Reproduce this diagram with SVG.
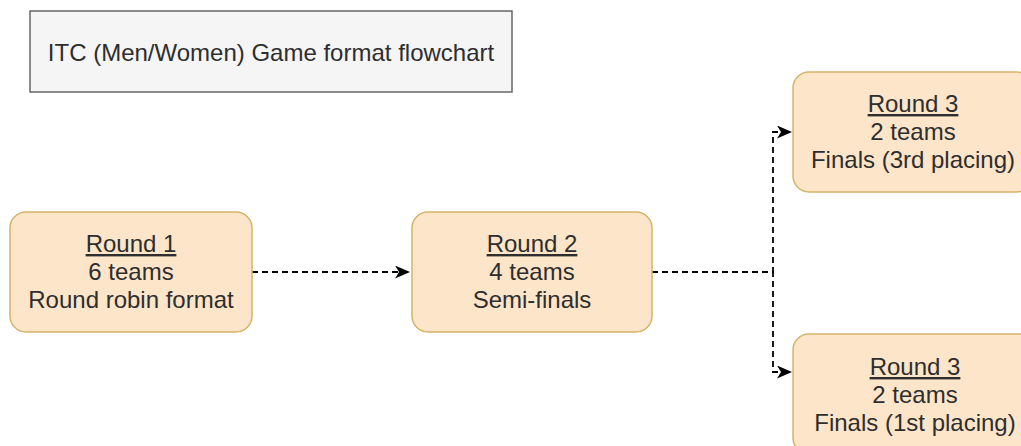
<svg xmlns="http://www.w3.org/2000/svg" width="1021" height="446" viewBox="0 0 1021 446">
<style>
.title{fill:#f5f5f5;stroke:#666666;stroke-width:1.5}
.node{fill:#fde5c9;stroke:#d6b36a;stroke-width:1.5}
.t{font-family:"Liberation Sans",Arial,sans-serif;font-size:24px;fill:#2e2e2e;text-anchor:middle}
.u{text-decoration:underline}
.edge{fill:none;stroke:#000000;stroke-width:1.8;stroke-dasharray:6 4}
</style>
<defs>
<marker id="arr" markerUnits="userSpaceOnUse" markerWidth="16" markerHeight="14" refX="15" refY="6.5" orient="auto">
<path d="M0,0 L15,6.5 L0,13 L4,6.5 Z" fill="#000000"/>
</marker>
</defs>
<g id="title">
<rect class="title" x="30" y="11" width="482" height="81"/>
<text class="t" x="271" y="61">ITC (Men/Women) Game format flowchart</text>
</g>
<g id="connectors">
<path class="edge" d="M252,272 L410,272" marker-end="url(#arr)"/>
<path class="edge" d="M652,272 L773,272 L773,132 L792,132" marker-end="url(#arr)"/>
<path class="edge" d="M652,272 L773,272 L773,372 L792,372" marker-end="url(#arr)"/>
</g>
<g id="round1">
<rect class="node" x="10" y="212" width="242" height="120" rx="16"/>
<text class="t u" x="131" y="252">Round 1</text>
<text class="t" x="131" y="280">6 teams</text>
<text class="t" x="131" y="308">Round robin format</text>
</g>
<g id="round2">
<rect class="node" x="412" y="212" width="240" height="120" rx="16"/>
<text class="t u" x="532" y="252">Round 2</text>
<text class="t" x="532" y="280">4 teams</text>
<text class="t" x="532" y="308">Semi-finals</text>
</g>
<g id="round3-third">
<rect class="node" x="793" y="72" width="240" height="120" rx="16"/>
<text class="t u" x="913" y="112">Round 3</text>
<text class="t" x="913" y="140">2 teams</text>
<text class="t" x="913" y="168">Finals (3rd placing)</text>
</g>
<g id="round3-first">
<rect class="node" x="793" y="334" width="244" height="120" rx="16"/>
<text class="t u" x="915" y="375">Round 3</text>
<text class="t" x="915" y="403">2 teams</text>
<text class="t" x="915" y="431">Finals (1st placing)</text>
</g>
</svg>
